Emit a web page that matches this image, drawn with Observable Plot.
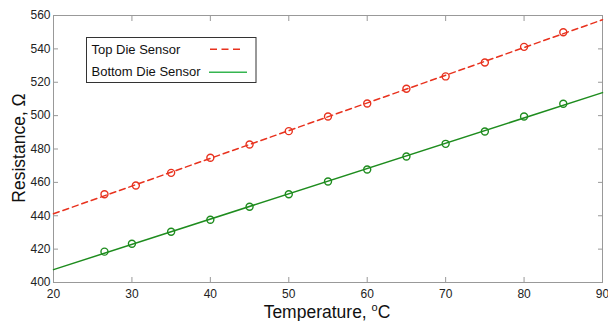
<!DOCTYPE html>
<html><head><meta charset="utf-8">
<script src="https://cdn.jsdelivr.net/npm/d3@7"></script>
<script src="https://cdn.jsdelivr.net/npm/@observablehq/plot@0.6"></script>
<style>
html,body{margin:0;padding:0;background:#fff;}
#chart svg{display:block;}
</style></head><body><div id="chart"></div>
<script>
// ---- data ----
const topTemperatures = [26.5, 30.5, 35, 40, 45, 50, 55, 60, 65, 70, 75, 80, 85];
const topDieResistance = [452.9, 458.1, 465.7, 474.8, 482.7, 490.7, 499.5, 507.3, 516.1, 523.5, 531.8, 541.2, 550.0];
const bottomTemperatures = [26.5, 30, 35, 40, 45, 50, 55, 60, 65, 70, 75, 80, 85];
const bottomDieResistance = [418.5, 423.2, 430.4, 437.6, 445.4, 452.9, 460.5, 467.7, 475.5, 483.1, 490.5, 499.5, 507.1];
const xTicks = [20, 30, 40, 50, 60, 70, 80, 90];
const yTicks = [400, 420, 440, 460, 480, 500, 520, 540, 560];
const seriesNames = ["Top Die Sensor", "Bottom Die Sensor"];
const xDomain = [20, 90];
const yDomain = [400, 560];

// ---- build tables ----
const topPts = topTemperatures.map((t, i) => ({t, r: topDieResistance[i]}));
const botPts = bottomTemperatures.map((t, i) => ({t, r: bottomDieResistance[i]}));
function fit(pts) {
  const mx = d3.mean(pts, d => d.t), my = d3.mean(pts, d => d.r);
  const b = d3.sum(pts, d => (d.t - mx) * (d.r - my)) / d3.sum(pts, d => (d.t - mx) ** 2);
  const a = my - b * mx;
  return xDomain.map(t => ({t, r: a + b * t}));
}
const topFit = fit(topPts), botFit = fit(botPts);

const RED = "#e8321e", GREEN = "#1e8c1e", LEGEND_GREEN = "#35b550";
const FONT = "'Liberation Sans', Arial, Helvetica, sans-serif";

const chart = Plot.plot({
  width: 608, height: 321,
  marginLeft: 53, marginRight: 6, marginTop: 15, marginBottom: 39,
  x: {domain: xDomain},
  y: {domain: yDomain},
  style: {fontFamily: FONT, fontSize: "12px", background: "#fff", color: "#222"},
  marks: [
    Plot.frame({stroke: "#999"}),
    Plot.axisX(xTicks, {anchor: "bottom", tickSize: -5, tickPadding: 12, stroke: "#999", fill: "#222", label: null}),
    Plot.axisX(xTicks, {anchor: "top", tickSize: -5, stroke: "#999", fill: "none", label: null}),
    Plot.axisY(yTicks, {anchor: "left", tickSize: -5, tickPadding: 8, stroke: "#999", fill: "#222", label: null}),
    Plot.axisY(yTicks, {anchor: "right", tickSize: -5, stroke: "#999", fill: "none", label: null}),
    Plot.line(topFit, {x: "t", y: "r", stroke: RED, strokeWidth: 1.5, strokeDasharray: "6,4"}),
    Plot.line(botFit, {x: "t", y: "r", stroke: GREEN, strokeWidth: 1.5}),
    Plot.dot(topPts, {x: "t", y: "r", r: 3.5, stroke: RED, strokeWidth: 1.4, fill: "none"}),
    Plot.dot(botPts, {x: "t", y: "r", r: 3.5, stroke: GREEN, strokeWidth: 1.4, fill: "none"})
  ]
});
document.getElementById("chart").appendChild(chart);

// ---- axis titles and legend ----
const svg = d3.select(chart);
const xl = svg.append("text").attr("x", 327).attr("y", 318).attr("text-anchor", "middle")
  .attr("font-family", FONT).attr("font-size", 17.5).attr("fill", "#111");
xl.append("tspan").text("Temperature, ");
xl.append("tspan").attr("font-size", 11).attr("dy", -7).text("o");
xl.append("tspan").attr("dy", 7).text("C");

svg.append("text").attr("transform", "translate(25,148) rotate(-90)").attr("text-anchor", "middle")
  .attr("font-family", FONT).attr("font-size", 17.5).attr("fill", "#111").text("Resistance, Ω");

const lg = svg.append("g").attr("text-anchor", "start");
lg.append("rect").attr("x", 86.5).attr("y", 37.5).attr("width", 169.5).attr("height", 45)
  .attr("fill", "#fff").attr("stroke", "#333").attr("stroke-width", 1);
const rows = [
  {name: seriesNames[0], y: 54, ly: 49.3, color: RED, dash: "7,4.5", x1: 210, x2: 241},
  {name: seriesNames[1], y: 76, ly: 72.3, color: LEGEND_GREEN, dash: null, x1: 209, x2: 247}
];
rows.forEach(r => {
  lg.append("text").attr("x", 91.5).attr("y", r.y).attr("text-anchor", "start")
    .attr("font-family", FONT).attr("font-size", 13).attr("fill", "#111").text(r.name);
  lg.append("line").attr("x1", r.x1).attr("x2", r.x2).attr("y1", r.ly).attr("y2", r.ly)
    .attr("stroke", r.color).attr("stroke-width", 1.5).attr("stroke-dasharray", r.dash);
});
</script></body></html>
